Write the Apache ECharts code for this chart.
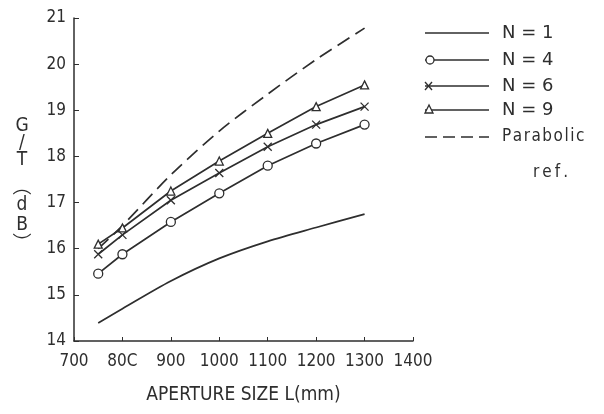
<!DOCTYPE html>
<html>
<head>
<meta charset="utf-8">
<script src="https://cdn.jsdelivr.net/npm/echarts@6/dist/echarts.min.js"></script>
<style>
html,body{margin:0;padding:0;background:#fff;}
#main{width:604px;height:414px;}
</style>
</head>
<body>
<div id="main"></div>
<script type="text/javascript">
// aperture sizes (mm)
var apertures = [750, 800, 900, 1000, 1100, 1200, 1300];
// G/T in dB
var gtN1 = [14.39, 14.70, 15.30, 15.79, 16.16, 16.46, 16.75];
var gtN4 = [15.46, 15.88, 16.58, 17.20, 17.80, 18.28, 18.69];
var gtN6 = [15.88, 16.30, 17.05, 17.64, 18.21, 18.69, 19.08];
var gtN9 = [16.10, 16.45, 17.25, 17.90, 18.50, 19.08, 19.55];
var gtParabolic = [16.00, 16.50, 17.60, 18.55, 19.35, 20.10, 20.78];

var xTickValues = [700, 800, 900, 1000, 1100, 1200, 1300, 1400];
var xTickLabels = ['700', '80C', '900', '1000', '1100', '1200', '1300', '1400'];
var legendNames = ['N = 1', 'N = 4', 'N = 6', 'N = 9', 'P\u200Aa\u200Ar\u200Aa\u200Ab\u200Ao\u200Al\u200Ai\u200Ac'];

var ink = '#2e2e2e';
var condensed = '"DejaVu Sans Condensed", "DejaVu Sans", sans-serif';
var crossPath = 'path://M0,0L10,10M10,0L0,10';

function pairs(vals){
    var out = [];
    for (var i = 0; i < apertures.length; i++) out.push([apertures[i], vals[i]]);
    return out;
}

function markedLine(name, vals, symbol, size){
    return {
        name: name, type: 'line', data: pairs(vals),
        symbol: symbol, symbolSize: size, showSymbol: true,
        lineStyle: {color: ink, width: 1.7},
        itemStyle: {color: '#fff', borderColor: ink, borderWidth: 1.3},
        z: 3
    };
}

var chart = echarts.init(document.getElementById('main'));

// legend on the right, built by hand so the marker sits at the left end like the original
var legendX0 = 425, legendX1 = 489, textX = 502;
var legendY = [33, 60, 86, 110, 137];
var legendGraphics = [];
legendNames.forEach(function(n, i){
    var y = legendY[i];
    legendGraphics.push({
        type: 'line', shape: {x1: legendX0, y1: y, x2: legendX1, y2: y},
        style: {stroke: ink, lineWidth: 1.7, lineDash: i === 4 ? [12, 6] : null}
    });
    legendGraphics.push({
        type: 'text', x: textX, y: y,
        style: {
            text: n, fill: ink, verticalAlign: 'middle',
            font: i === 4 ? '17px "DejaVu Sans Condensed", sans-serif' : '18px "DejaVu Sans", sans-serif'
        }
    });
});
legendGraphics.push({type: 'circle', shape: {cx: 430, cy: legendY[1], r: 4}, style: {fill: '#fff', stroke: ink, lineWidth: 1.3}});
legendGraphics.push({type: 'polyline', shape: {points: [[425, legendY[2] - 4], [432, legendY[2] + 4]]}, style: {stroke: ink, lineWidth: 1.3}});
legendGraphics.push({type: 'polyline', shape: {points: [[425, legendY[2] + 4], [432, legendY[2] - 4]]}, style: {stroke: ink, lineWidth: 1.3}});
legendGraphics.push({type: 'polygon', shape: {points: [[429, legendY[3] - 5], [425, legendY[3] + 3], [433, legendY[3] + 3]]}, style: {fill: '#fff', stroke: ink, lineWidth: 1.3}});
legendGraphics.push({
    type: 'text', x: 533, y: 173,
    style: {text: 'r\u2009e\u2009f\u2009.', fill: ink, font: '17px "DejaVu Sans Condensed", sans-serif', verticalAlign: 'middle'}
});

// vertical y-axis title: G / T (dB) stacked
var yTitle = [['G', 126], ['/', 143], ['T', 160], ['\uFE35', 188], ['d', 205], ['B', 225], ['\uFE36', 245]];
yTitle.forEach(function(c){
    legendGraphics.push({
        type: 'text', x: 22, y: c[1],
        style: {text: c[0], fill: ink, font: '19px "DejaVu Sans Condensed", "Noto Sans CJK SC", sans-serif', align: 'center', verticalAlign: 'middle'}
    });
});

var option = {
    animation: false,
    backgroundColor: '#fff',
    grid: {left: 74, right: 191, top: 18, bottom: 73},
    xAxis: {
        type: 'value', min: 700, max: 1400, interval: 100,
        name: 'APERTURE SIZE L(mm)', nameLocation: 'middle', nameGap: 45,
        nameTextStyle: {color: ink, fontSize: 19, fontFamily: condensed},
        axisLine: {lineStyle: {color: ink, width: 1.5}},
        axisTick: {inside: true, length: 4, lineStyle: {color: ink}},
        axisLabel: {
            color: ink, fontSize: 17, fontFamily: condensed, margin: 12,
            formatter: function(v){
                var i = xTickValues.indexOf(v);
                return i >= 0 ? xTickLabels[i] : '';
            }
        },
        splitLine: {show: false}
    },
    yAxis: {
        type: 'value', min: 14, max: 21, interval: 1,
        axisLine: {show: true, lineStyle: {color: ink, width: 1.5}},
        axisTick: {show: true, inside: true, length: 5, lineStyle: {color: ink}},
        axisLabel: {color: ink, fontSize: 17, fontFamily: condensed, margin: 8},
        splitLine: {show: false}
    },
    graphic: legendGraphics,
    series: [
        {
            name: 'N = 1', type: 'line', data: pairs(gtN1), smooth: 0.3,
            showSymbol: false, symbol: 'none',
            lineStyle: {color: ink, width: 1.7}
        },
        markedLine('N = 4', gtN4, 'circle', 9),
        markedLine('N = 6', gtN6, crossPath, 8),
        markedLine('N = 9', gtN9, 'triangle', 8),
        {
            name: 'Parabolic ref.', type: 'line', data: pairs(gtParabolic), smooth: 0.3,
            showSymbol: false, symbol: 'none',
            lineStyle: {color: ink, width: 1.7, type: [14, 7]}
        }
    ]
};

chart.setOption(option);
</script>
</body>
</html>
